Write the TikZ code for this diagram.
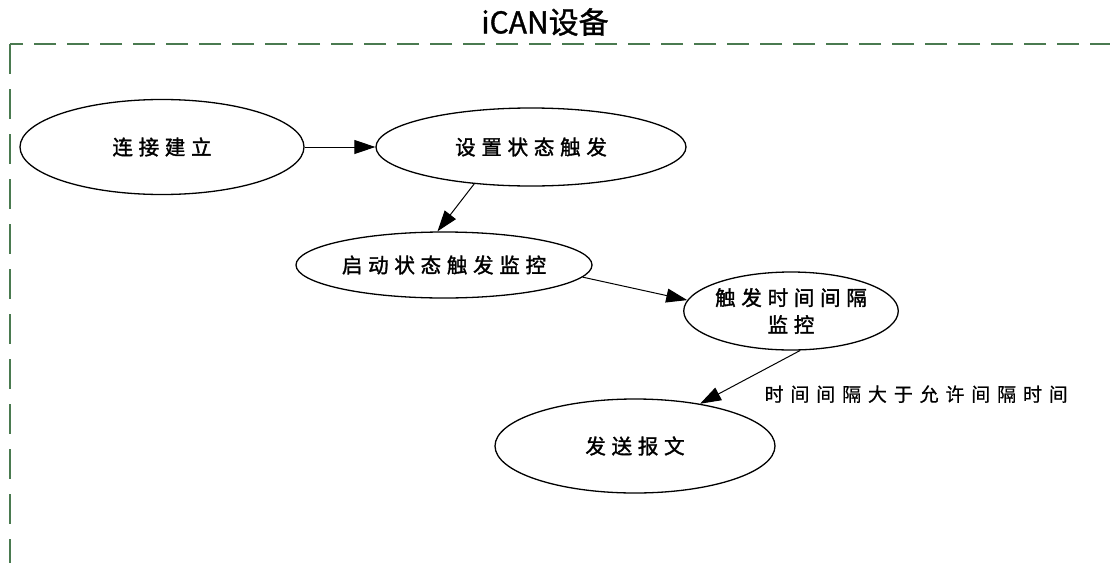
\documentclass[tikz,border=0pt]{standalone}
\usepackage{fontspec}
\usetikzlibrary{arrows.meta,shapes.geometric}
\newfontfamily\cjk[LetterSpace=28,FakeBold=1.6]{Noto Sans CJK SC}
\newfontfamily\cjklbl[LetterSpace=36,FakeBold=0.6]{Noto Sans CJK SC}
\newfontfamily\cjktitle[FakeBold=1.2]{Noto Sans CJK SC}
\definecolor{framegreen}{HTML}{4A7A50}
\tikzset{
  stateell/.style={draw=black, line width=1.3pt, ellipse, inner sep=0pt, font=\cjk\fontsize{20.5}{27}\selectfont, align=center},
  flow/.style={draw=black, line width=1pt, -{Triangle[length=21pt,width=14pt]}},
  edgelabel/.style={font=\cjklbl\fontsize{19}{22}\selectfont, inner sep=0pt},
}
\begin{document}
\begin{tikzpicture}[x=1pt,y=-1pt]
\useasboundingbox (0,0) rectangle (1110,562);
% frame
\draw[framegreen, line width=2.6pt, dash pattern=on 22pt off 11pt] (1112,44) -- (10,44);
\draw[framegreen, line width=2.6pt, dash pattern=on 30pt off 15pt] (10,44) -- (10,570);
\node[font=\cjktitle\fontsize{30}{32}\selectfont, inner sep=0pt] (title) at (545,22) {iCAN设备};
% nodes
\node[stateell, minimum width=284pt, minimum height=95pt] (n1) at (162,147) {连接建立};
\node[stateell, minimum width=310pt, minimum height=78pt] (n2) at (531,147) {设置状态触发};
\node[stateell, minimum width=296pt, minimum height=66pt] (n3) at (444,265) {启动状态触发监控};
\node[stateell, minimum width=196pt, minimum height=78pt] (n4) at (791,311) {触发时间间隔\\监控};
\node[stateell, minimum width=280pt, minimum height=94pt] (n5) at (635,446) {发送报文};
% connectors
\draw[flow] (n1.east) -- (n2.west);
\draw[flow] (n2.213) -- (n3.101);
\draw[flow] (n3.-5) -- (n4.174);
\draw[flow] (n4.-77) -- node[edgelabel, pos=0.4, anchor=north west, xshift=4pt, yshift=-13pt] (lbl) {时间间隔大于允许间隔时间} (n5.33);
\end{tikzpicture}
\end{document}
